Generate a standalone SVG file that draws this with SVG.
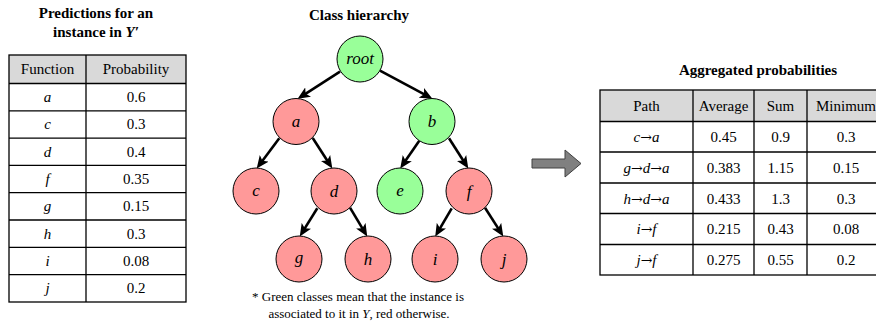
<svg xmlns="http://www.w3.org/2000/svg" width="876" height="324" viewBox="0 0 876 324">
<style>
text{font-family:"Liberation Serif","Times New Roman",serif;fill:#000}
.title{font-size:15px;font-weight:bold;text-anchor:middle}
.cell{font-size:15px;text-anchor:middle}
.it{font-style:italic}
.ar{font-family:"DejaVu Serif",serif;font-size:14px;font-style:normal}
.node circle{stroke:#000;stroke-width:1}
.g{fill:#99ff99}
.r{fill:#ff9999}
.lbl{font-size:17px;font-style:italic;text-anchor:middle}
.hdr{fill:#d9d9d9}
.grid{stroke:#000;stroke-width:1.3;fill:none}
.edge{stroke:#000;stroke-width:2.6;fill:none;marker-end:url(#ah)}
.note{font-size:13px;text-anchor:middle}
</style>
<defs>
<marker id="ah" markerUnits="userSpaceOnUse" markerWidth="13" markerHeight="11" refX="6" refY="5.5" orient="auto" viewBox="0 0 13 11">
<path d="M0,0 L12.5,5.5 L0,11 L3,5.5 z" fill="#000"/>
</marker>
</defs>
<rect width="876" height="324" fill="#fff"/>

<!-- Left table -->
<g id="predictions-table">
<text class="title" x="96" y="18">Predictions for an</text>
<text class="title" x="96" y="37">instance in <tspan font-style="italic">Y′</tspan></text>
<rect class="hdr" x="9" y="55" width="177" height="28.5"/>
<g class="grid">
<rect x="9" y="55" width="177" height="247"/>
<line x1="86" y1="55" x2="86" y2="302"/>
<line x1="9" y1="83.5" x2="186" y2="83.5"/>
<line x1="9" y1="110.8" x2="186" y2="110.8"/>
<line x1="9" y1="138.1" x2="186" y2="138.1"/>
<line x1="9" y1="165.4" x2="186" y2="165.4"/>
<line x1="9" y1="192.7" x2="186" y2="192.7"/>
<line x1="9" y1="220" x2="186" y2="220"/>
<line x1="9" y1="247.3" x2="186" y2="247.3"/>
<line x1="9" y1="274.6" x2="186" y2="274.6"/>
</g>
<text class="cell" x="47.5" y="74">Function</text>
<text class="cell" x="136" y="74">Probability</text>
<text class="cell it" x="47.5" y="102">a</text><text class="cell" x="136" y="102">0.6</text>
<text class="cell it" x="47.5" y="129.3">c</text><text class="cell" x="136" y="129.3">0.3</text>
<text class="cell it" x="47.5" y="156.6">d</text><text class="cell" x="136" y="156.6">0.4</text>
<text class="cell it" x="47.5" y="183.9">f</text><text class="cell" x="136" y="183.9">0.35</text>
<text class="cell it" x="47.5" y="211.2">g</text><text class="cell" x="136" y="211.2">0.15</text>
<text class="cell it" x="47.5" y="238.5">h</text><text class="cell" x="136" y="238.5">0.3</text>
<text class="cell it" x="47.5" y="265.8">i</text><text class="cell" x="136" y="265.8">0.08</text>
<text class="cell it" x="47.5" y="293.1">j</text><text class="cell" x="136" y="293.1">0.2</text>
</g>

<!-- Tree -->
<text class="title" x="359" y="20" font-size="14">Class hierarchy</text>

<g id="edges">
<path class="edge" d="M340,71.7 L303.1,95.3"/>
<path class="edge" d="M380,70.7 L426.7,95.7"/>
<path class="edge" d="M279.3,138.3 L260.6,163.2"/>
<path class="edge" d="M312.7,138 L328.8,163"/>
<path class="edge" d="M317.3,208.3 L303.2,230.9"/>
<path class="edge" d="M350,207.7 L363.9,230.9"/>
<path class="edge" d="M419.3,140.7 L403.9,163.1"/>
<path class="edge" d="M449,138.3 L464.8,163"/>
<path class="edge" d="M451.7,208.3 L438.5,230.8"/>
<path class="edge" d="M485,207.7 L499.8,230.9"/>
</g>

<g id="node-root" class="node"><circle class="g" cx="360" cy="59" r="23"/><text class="lbl" x="360" y="64" font-size="15">root</text></g>
<g id="node-a" class="node"><circle class="r" cx="296" cy="121.5" r="23"/><text class="lbl" x="296" y="126.5">a</text></g>
<g id="node-b" class="node"><circle class="g" cx="432" cy="121.5" r="23"/><text class="lbl" x="432" y="127">b</text></g>
<g id="node-c" class="node"><circle class="r" cx="256" cy="191" r="23"/><text class="lbl" x="256" y="196">c</text></g>
<g id="node-d" class="node"><circle class="r" cx="334" cy="191" r="23"/><text class="lbl" x="334" y="196.5">d</text></g>
<g id="node-e" class="node"><circle class="g" cx="400" cy="191" r="23"/><text class="lbl" x="400" y="196">e</text></g>
<g id="node-f" class="node"><circle class="r" cx="469" cy="191" r="23"/><text class="lbl" x="469" y="196.5">f</text></g>
<g id="node-g" class="node"><circle class="r" cx="299" cy="259" r="23"/><text class="lbl" x="299" y="263">g</text></g>
<g id="node-h" class="node"><circle class="r" cx="368" cy="259" r="23"/><text class="lbl" x="368" y="264.5">h</text></g>
<g id="node-i" class="node"><circle class="r" cx="435" cy="259" r="23"/><text class="lbl" x="435" y="264.5">i</text></g>
<g id="node-j" class="node"><circle class="r" cx="504" cy="259" r="23"/><text class="lbl" x="504" y="264.5">j</text></g>

<text class="note" x="358" y="301">* Green classes mean that the instance is</text>
<text class="note" x="359" y="318">associated to it in <tspan font-style="italic">Y</tspan>, red otherwise.</text>

<!-- Big arrow -->
<g id="big-arrow">
<polygon points="532,159 565,159 565,150 581,163.5 565,177 565,168 532,168" fill="#808080" stroke="#404040" stroke-width="1"/>
</g>

<!-- Right table -->
<g id="aggregated-table">
<text class="title" x="758" y="75">Aggregated probabilities</text>
<rect class="hdr" x="600" y="90" width="290" height="31.5"/>
<g class="grid">
<rect x="600" y="90" width="290" height="185"/>
<line x1="693" y1="90" x2="693" y2="275"/>
<line x1="754" y1="90" x2="754" y2="275"/>
<line x1="807" y1="90" x2="807" y2="275"/>
<line x1="600" y1="121.5" x2="890" y2="121.5"/>
<line x1="600" y1="152" x2="890" y2="152"/>
<line x1="600" y1="183" x2="890" y2="183"/>
<line x1="600" y1="213.5" x2="890" y2="213.5"/>
<line x1="600" y1="244.5" x2="890" y2="244.5"/>
</g>
<text class="cell" x="646.5" y="111">Path</text>
<text class="cell" x="723.5" y="111">Average</text>
<text class="cell" x="780.5" y="111">Sum</text>
<text class="cell" x="846" y="111">Minimum</text>

<text class="cell" x="646.5" y="142"><tspan font-style="italic">c</tspan><tspan class="ar">→</tspan><tspan font-style="italic">a</tspan></text>
<text class="cell" x="723.5" y="142">0.45</text><text class="cell" x="780.5" y="142">0.9</text><text class="cell" x="846" y="142">0.3</text>

<text class="cell" x="646.5" y="172.5"><tspan font-style="italic">g</tspan><tspan class="ar">→</tspan><tspan font-style="italic">d</tspan><tspan class="ar">→</tspan><tspan font-style="italic">a</tspan></text>
<text class="cell" x="723.5" y="172.5">0.383</text><text class="cell" x="780.5" y="172.5">1.15</text><text class="cell" x="846" y="172.5">0.15</text>

<text class="cell" x="646.5" y="203.5"><tspan font-style="italic">h</tspan><tspan class="ar">→</tspan><tspan font-style="italic">d</tspan><tspan class="ar">→</tspan><tspan font-style="italic">a</tspan></text>
<text class="cell" x="723.5" y="203.5">0.433</text><text class="cell" x="780.5" y="203.5">1.3</text><text class="cell" x="846" y="203.5">0.3</text>

<text class="cell" x="646.5" y="234"><tspan font-style="italic">i</tspan><tspan class="ar">→</tspan><tspan font-style="italic">f</tspan></text>
<text class="cell" x="723.5" y="234">0.215</text><text class="cell" x="780.5" y="234">0.43</text><text class="cell" x="846" y="234">0.08</text>

<text class="cell" x="646.5" y="265"><tspan font-style="italic">j</tspan><tspan class="ar">→</tspan><tspan font-style="italic">f</tspan></text>
<text class="cell" x="723.5" y="265">0.275</text><text class="cell" x="780.5" y="265">0.55</text><text class="cell" x="846" y="265">0.2</text>
</g>
</svg>
